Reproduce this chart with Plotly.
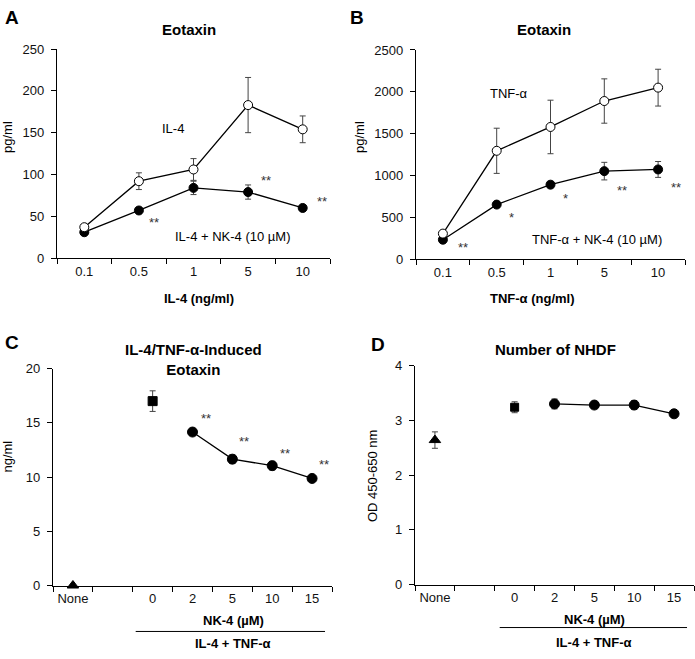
import plotly.graph_objects as go

W, H = 695, 659
FONT = "Liberation Sans, Arial, sans-serif"

# ---------------- data ----------------
A_cats = ["0.1", "0.5", "1", "5", "10"]
A_il4 = [37, 92, 106, 183, 154]
A_il4_err = [3, 10, 13, 33, 16]
A_nk4 = [31, 57, 84, 79, 60]
A_nk4_err = [3, 3, 8, 8.5, 3]

B_cats = ["0.1", "0.5", "1", "5", "10"]
B_tnf = [305, 1295, 1580, 1890, 2050]
B_tnf_err = [20, 270, 320, 265, 220]
B_nk4 = [232, 652, 890, 1052, 1072]
B_nk4_err = [30, 35, 40, 105, 95]

CD_cats = ["None", "", "0", "2", "5", "10", "15"]
NK4_doses = ["2", "5", "10", "15"]

C_none = [0.0]
C_ctrl = [17.0]
C_ctrl_err = [0.95]
C_nk4 = [14.15, 11.65, 11.05, 9.87]
C_nk4_err = [0.2, 0.4, 0.4, 0.15]

D_none = [2.64]
D_none_err = [0.15]
D_ctrl = [3.24]
D_ctrl_err = [0.1]
D_nk4 = [3.30, 3.28, 3.28, 3.12]
D_nk4_err = [0.09, 0.03, 0.08, 0.05]

# significance marks (text, x index, y value)
A_stars = [("**", 1.27, 43), ("**", 3.33, 93), ("**", 4.36, 68)]
B_stars = [("**", 0.37, 140), ("*", 1.27, 495), ("*", 2.28, 728), ("**", 3.32, 825), ("**", 4.34, 857)]
C_stars = [("**", 3.33, 15.4), ("**", 4.28, 13.25), ("**", 5.33, 12.2), ("**", 6.3, 11.2)]

fig = go.Figure()

ERR = dict(type="data", color="#444", thickness=1, width=3)


def add_series(xaxis, yaxis, xs, ys, errs, symbol, fill, mode="lines+markers", size=9):
    fig.add_trace(go.Scatter(
        x=xs, y=ys, mode=mode, xaxis=xaxis, yaxis=yaxis,
        line=dict(color="black", width=1.3),
        marker=dict(symbol=symbol, size=size, color=fill, line=dict(color="black", width=1)),
        error_y=dict(array=errs, **ERR) if errs is not None else None,
        showlegend=False, hoverinfo="skip", cliponaxis=False))


# Panel A
ax = list(range(len(A_cats)))
add_series("x", "y", ax, A_nk4, A_nk4_err, "circle", "black")
add_series("x", "y", ax, A_il4, A_il4_err, "circle", "white")
# Panel B
bx = list(range(len(B_cats)))
add_series("x2", "y2", bx, B_nk4, B_nk4_err, "circle", "black")
add_series("x2", "y2", bx, B_tnf, B_tnf_err, "circle", "white")
# Panel C
ci_none = [CD_cats.index("None")]
ci_ctrl = [CD_cats.index("0")]
ci_nk4 = [CD_cats.index(d) for d in NK4_doses]
add_series("x3", "y3", ci_none, C_none, None, "triangle-up", "black", mode="markers", size=10)
add_series("x3", "y3", ci_ctrl, C_ctrl, C_ctrl_err, "square", "black", mode="markers", size=9)
add_series("x3", "y3", ci_nk4, C_nk4, C_nk4_err, "circle", "black", size=10)
# Panel D
add_series("x4", "y4", ci_none, D_none, D_none_err, "triangle-up", "black", mode="markers", size=10)
add_series("x4", "y4", ci_ctrl, D_ctrl, D_ctrl_err, "square", "black", mode="markers", size=8)
add_series("x4", "y4", ci_nk4, D_nk4, D_nk4_err, "circle", "black", size=10)


def xax(dom, labels):
    n = len(labels)
    return dict(domain=dom, range=[-0.5, n - 0.5], tickmode="array",
                tickvals=list(range(n)), ticktext=labels, ticks="",
                showline=True, linecolor="black", linewidth=1.3, zeroline=False,
                showgrid=False, ticklabelstandoff=1,
                tickfont=dict(family=FONT, size=13, color="#111"),
                minor=dict(tickmode="linear", tick0=-0.5, dtick=1, ticks="outside",
                           ticklen=5, tickcolor="black", tickwidth=1, showgrid=False))


def yax(dom, rng, dt, anchor):
    return dict(domain=dom, range=rng, dtick=dt, tick0=0, ticks="outside", ticklen=5,
                tickcolor="black", showline=True, linecolor="black", linewidth=1.3,
                zeroline=False, showgrid=False, anchor=anchor, ticklabelstandoff=4,
                tickfont=dict(family=FONT, size=13, color="#111"))


def px(x, y):
    return x / W, 1 - y / H


fig.update_layout(
    width=W, height=H, margin=dict(l=0, r=0, t=0, b=0),
    paper_bgcolor="white", plot_bgcolor="white",
    xaxis=dict(xax([57 / W, 330 / W], A_cats), anchor="y"),
    yaxis=yax([1 - 257 / H, 1 - 43 / H], [0, 250], 50, "x"),
    xaxis2=dict(xax([416 / W, 685 / W], B_cats), anchor="y2"),
    yaxis2=yax([1 - 258 / H, 1 - 44 / H], [0, 2500], 500, "x2"),
    xaxis3=dict(xax([53 / W, 332 / W], CD_cats), anchor="y3"),
    yaxis3=yax([1 - 592 / H, 1 - 370 / H], [0, 20], 5, "x3"),
    xaxis4=dict(xax([415 / W, 694 / W], CD_cats), anchor="y4"),
    yaxis4=yax([1 - 591 / H, 1 - 367 / H], [0, 4], 1, "x4"),
)

ann = []


def ptext(text, x, y, size=13, bold=False, angle=0, color="black"):
    xx, yy = px(x, y)
    t = f"<b>{text}</b>" if bold else text
    ann.append(dict(text=t, x=xx, y=yy, xref="paper", yref="paper", showarrow=False,
                    xanchor="center", yanchor="middle", textangle=angle,
                    font=dict(family=FONT, size=size, color=color)))


def dtext(text, x, y, xr, yr, size=13, color="black"):
    ann.append(dict(text=text, x=x, y=y, xref=xr, yref=yr, showarrow=False,
                    xanchor="center", yanchor="middle",
                    font=dict(family=FONT, size=size, color=color)))


# panel letters
ptext("A", 12, 11, size=19, bold=True)
ptext("B", 357, 11, size=19, bold=True)
ptext("C", 12, 343, size=19, bold=True)
ptext("D", 378, 345, size=19, bold=True)
# titles
ptext("Eotaxin", 189, 23, size=15, bold=True)
ptext("Eotaxin", 544, 23, size=15, bold=True)
ptext("IL-4/TNF-α-Induced<br>Eotaxin", 193, 361, size=15, bold=True)
ptext("Number of NHDF", 555, 350, size=15, bold=True)
# y titles
ptext("pg/ml", 8, 133, angle=-90)
ptext("pg/ml", 360, 133, angle=-90)
ptext("ng/ml", 8, 460, angle=-90)
ptext("OD 450-650 nm", 372, 480, angle=-90)
# x titles
ptext("IL-4 (ng/ml)", 199, 298, bold=True)
ptext("TNF-α (ng/ml)", 532, 298, bold=True)
ptext("NK-4 (µM)", 233, 628, bold=True)
ptext("IL-4 + TNF-α", 233, 651, bold=True)
ptext("NK-4 (µM)", 594, 627, bold=True)
ptext("IL-4 + TNF-α", 594, 650, bold=True)

# series labels
dtext("IL-4", 1.62, 155, "x", "y")
dtext("IL-4 + NK-4 (10 µM)", 2.73, 26, "x", "y")
dtext("TNF-α", 1.22, 1974, "x2", "y2")
dtext("TNF-α + NK-4 (10 µM)", 2.87, 234, "x2", "y2")

for t, x, y in A_stars:
    dtext(t, x, y, "x", "y", size=13, color="#333")
for t, x, y in B_stars:
    dtext(t, x, y, "x2", "y2", size=13, color="#333")
for t, x, y in C_stars:
    dtext(t, x, y, "x3", "y3", size=13, color="#333")

fig.update_layout(annotations=ann)

# bracket lines under NK-4 doses
fig.add_shape(type="line", xref="x3", yref="paper", x0=1.575, x1=6.325,
              y0=1 - 639 / H, y1=1 - 639 / H, line=dict(color="black", width=1))
fig.add_shape(type="line", xref="x4", yref="paper", x0=1.625, x1=6.325,
              y0=1 - 635 / H, y1=1 - 635 / H, line=dict(color="black", width=1))

fig.write_html("out.html", config={"displayModeBar": False},
               post_script="document.body.style.margin='0';document.body.style.overflow='hidden';")
